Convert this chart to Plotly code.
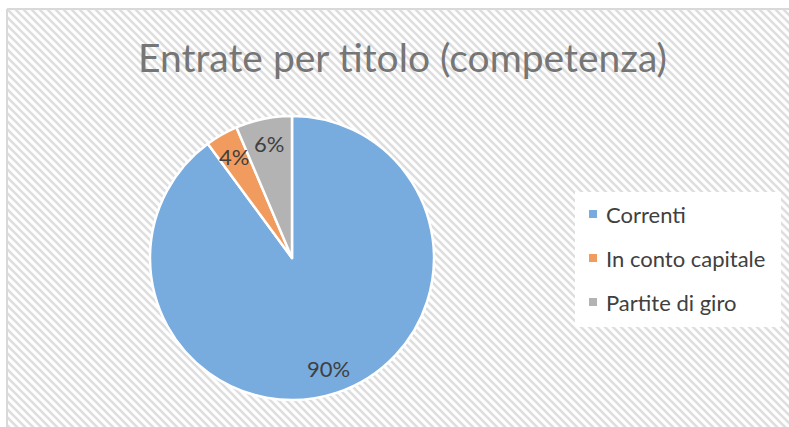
import base64
import math
import plotly.graph_objects as go

# ---- data ----
categories = ["Correnti", "In conto capitale", "Partite di giro"]
values = [89.9, 3.7, 6.4]
title_text = "Entrate per titolo (competenza)"

# ---- style ----
W, H = 789, 427
colors = ["#78ABDE", "#F19B5E", "#B3B3B3"]
text_color = "#404040"
title_color = "#767676"
FONT = "Lato"
PIE_CX, PIE_CY, PIE_R = 292, 258, 142
LABEL_R = 0.82

def px2x(px):
    return px / W

def py2y(py):
    return 1 - py / H

fig = go.Figure()
fig.add_trace(go.Pie(
    labels=categories,
    values=values,
    sort=False,
    direction="clockwise",
    rotation=0,
    textinfo="none",
    hoverinfo="label+percent",
    marker=dict(colors=colors, line=dict(color="white", width=2.5)),
    domain=dict(x=[px2x(PIE_CX - PIE_R), px2x(PIE_CX + PIE_R)],
                y=[py2y(PIE_CY + PIE_R), py2y(PIE_CY - PIE_R)]),
    showlegend=False,
))

# data labels placed at the mid-angle of each slice
annotations = []
total = sum(values)
cum = 0.0
for v in values:
    mid = (cum + v / 2) / total * 2 * math.pi
    cum += v
    lx = PIE_CX + LABEL_R * PIE_R * math.sin(mid)
    ly = PIE_CY - LABEL_R * PIE_R * math.cos(mid)
    annotations.append(dict(
        x=px2x(lx), y=py2y(ly), xref="paper", yref="paper",
        text=f"{round(v / total * 100)}%", showarrow=False,
        font=dict(family=FONT, size=22, color=text_color),
        xanchor="center", yanchor="middle"))

# manual legend
shapes = []
LEG_X0, LEG_Y0, LEG_X1, LEG_Y1 = 575, 192, 781, 327
shapes.append(dict(type="rect", xref="paper", yref="paper",
                   x0=px2x(LEG_X0), x1=px2x(LEG_X1), y0=py2y(LEG_Y1), y1=py2y(LEG_Y0),
                   fillcolor="white", line=dict(width=0), layer="above"))
row_y = [214, 258, 302]
for cat, col, ry in zip(categories, colors, row_y):
    shapes.append(dict(type="rect", xref="paper", yref="paper",
                       x0=px2x(589), x1=px2x(597), y0=py2y(ry + 4), y1=py2y(ry - 4),
                       fillcolor=col, line=dict(width=0), layer="above"))
    annotations.append(dict(
        x=px2x(605), y=py2y(ry), xref="paper", yref="paper", text=cat,
        showarrow=False, xanchor="left", yanchor="middle", borderpad=0,
        font=dict(family=FONT, size=22, color=text_color)))

# chart-area border (left and top visible)
shapes.append(dict(type="line", xref="paper", yref="paper",
                   x0=px2x(7), x1=px2x(7), y0=0, y1=py2y(9),
                   line=dict(color="#D9D9D9", width=2), layer="above"))
shapes.append(dict(type="line", xref="paper", yref="paper",
                   x0=px2x(7), x1=1, y0=py2y(9), y1=py2y(9),
                   line=dict(color="#D9D9D9", width=2), layer="above"))

# hatched background (extends past the right/bottom edges, clipped by the figure)
bw, bh = W - 7 + 12, H - 9 + 12
svg = (f'<svg xmlns="http://www.w3.org/2000/svg" width="{bw}" height="{bh}">'
       '<defs><pattern id="p" width="8" height="8" patternUnits="userSpaceOnUse">'
       '<rect width="8" height="8" fill="#ffffff"/>'
       '<path d="M-2,-2 L10,10 M-2,6 L2,10 M6,-2 L10,2" stroke="#DEDEDE" stroke-width="2.6"/>'
       '</pattern></defs>'
       f'<rect width="{bw}" height="{bh}" fill="url(#p)"/></svg>')
src = "data:image/svg+xml;base64," + base64.b64encode(svg.encode()).decode()

fig.update_layout(
    width=W, height=H,
    margin=dict(l=0, r=0, t=0, b=0),
    paper_bgcolor="white",
    title=dict(text=title_text, x=402.5 / W, y=py2y(58), xanchor="center", yanchor="middle",
               xref="paper", yref="container",
               font=dict(family=FONT, size=39, color=title_color)),
    annotations=annotations,
    shapes=shapes,
    images=[dict(source=src, xref="paper", yref="paper", x=px2x(7), y=py2y(9),
                 sizex=bw / W, sizey=bh / H, xanchor="left", yanchor="top",
                 sizing="stretch", layer="below")],
)

fig.write_html(
    "out.html",
    config={"displayModeBar": False},
    post_script="document.body.style.margin='0';document.body.style.padding='0';"
                "document.documentElement.style.overflow='hidden';",
)
